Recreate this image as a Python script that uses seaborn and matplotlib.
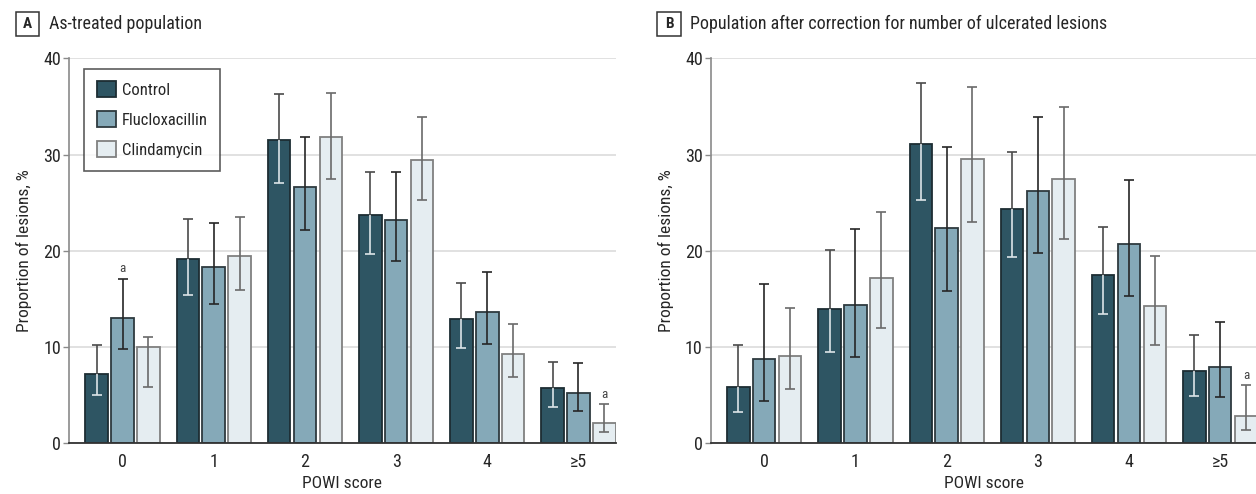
import matplotlib
matplotlib.use("Agg")
import matplotlib.pyplot as plt
from matplotlib import font_manager
from matplotlib.patches import Rectangle, Patch
import seaborn as sns
import pandas as pd
import numpy as np

# ---------------- data ----------------
scores = ["0", "1", "2", "3", "4", "\u22655"]
groups = ["Control", "Flucloxacillin", "Clindamycin"]

# Panel A: as-treated population
a_control = [7.2, 19.1, 31.5, 23.7, 12.9, 5.7]
a_control_lo = [5.0, 15.4, 27.0, 19.7, 9.9, 3.7]
a_control_hi = [10.2, 23.3, 36.3, 28.2, 16.6, 8.4]
a_fluclox = [13.0, 18.3, 26.6, 23.2, 13.6, 5.2]
a_fluclox_lo = [9.8, 14.4, 22.1, 18.9, 10.3, 3.3]
a_fluclox_hi = [17.1, 22.9, 31.8, 28.2, 17.8, 8.3]
a_clinda = [10.0, 19.4, 31.8, 29.4, 9.2, 2.1]
a_clinda_lo = [5.8, 15.9, 27.5, 25.3, 6.8, 1.1]
a_clinda_hi = [11.0, 23.5, 36.4, 33.9, 12.4, 4.0]
a_flags = {("Flucloxacillin", "0"), ("Clindamycin", "\u22655")}

# Panel B: after correction for number of ulcerated lesions
b_control = [5.8, 13.9, 31.1, 24.3, 17.5, 7.5]
b_control_lo = [3.2, 9.4, 25.3, 19.3, 13.4, 4.9]
b_control_hi = [10.2, 20.1, 37.4, 30.3, 22.5, 11.2]
b_fluclox = [8.7, 14.3, 22.4, 26.2, 20.7, 7.9]
b_fluclox_lo = [4.3, 8.9, 15.8, 19.8, 15.3, 4.8]
b_fluclox_hi = [16.5, 22.3, 30.8, 33.9, 27.4, 12.6]
b_clinda = [9.0, 17.2, 29.5, 27.5, 14.2, 2.8]
b_clinda_lo = [5.6, 12.0, 23.0, 21.2, 10.2, 1.3]
b_clinda_hi = [14.0, 24.0, 37.0, 34.9, 19.4, 6.0]
b_flags = {("Clindamycin", "\u22655")}

panel_a_title = "As-treated population"
panel_b_title = "Population after correction for number of ulcerated lesions"
y_label = "Proportion of lesions, %"
x_label = "POWI score"
y_ticks = [0, 10, 20, 30, 40]

# ---------------- style ----------------
face = {"Control": "#2e5563", "Flucloxacillin": "#85a9b8", "Clindamycin": "#e5edf1"}
edge = {"Control": "#1d2d33", "Flucloxacillin": "#2e3a3f", "Clindamycin": "#808080"}
err_out = {"Control": "#4a4a4a", "Flucloxacillin": "#262626", "Clindamycin": "#6a6a6a"}
err_in = {"Control": "#dde5e8", "Flucloxacillin": "#262626", "Clindamycin": "#6a6a6a"}

sns.set_theme(style="white")
avail = {f.name for f in font_manager.fontManager.ttflist}
fam = "DejaVu Sans"
for cand in ["Roboto Condensed", "Liberation Sans Narrow", "DejaVu Sans Condensed",
             "Open Sans Condensed", "Noto Sans Condensed", "Roboto", "Noto Sans"]:
    if cand in avail:
        fam = cand
        break
plt.rcParams["font.family"] = [fam, "DejaVu Sans"]
if fam == "DejaVu Sans":
    plt.rcParams["font.stretch"] = "condensed"
FS_TITLE = 13
FS_TICK = 13
FS_LAB = 12.5
FS_LEG = 12
TXT = "#262626"

W, H = 1256, 494
fig = plt.figure(figsize=(W / 100, H / 100), dpi=100)
ax_w = 546.7 / W
ax_h = 384.3 / H
ax_b = 1 - 442.8 / H
axA = fig.add_axes([69 / W, ax_b, ax_w, ax_h])
axB = fig.add_axes([710.7 / W, ax_b, ax_w, ax_h])


def make_df(c, f, k):
    rows = []
    for g, vals in zip(groups, [c, f, k]):
        for s, v in zip(scores, vals):
            rows.append({"score": s, "group": g, "value": v})
    return pd.DataFrame(rows)


def draw(ax, vals, los, his, flags, legend):
    df = make_df(*vals)
    sns.barplot(data=df, x="score", y="value", hue="group", order=scores,
                hue_order=groups, palette=face, errorbar=None, width=0.85,
                gap=0.13, linewidth=1.3, saturation=1, legend=False, ax=ax,
                zorder=2)
    for gi, (g, cont) in enumerate(zip(groups, ax.containers)):
        for si, p in enumerate(cont.patches):
            p.set_edgecolor(edge[g])
            p.set_linewidth(1.3)
            x = p.get_x() + p.get_width() / 2
            v = vals[gi][si]
            lo = los[gi][si]
            hi = his[gi][si]
            ax.vlines(x, lo, v, colors=err_in[g], lw=1.2, zorder=4)
            ax.plot([x], [lo], ls="none", marker="_", ms=6.5, mew=1.2,
                    color=err_in[g], zorder=4)
            ax.vlines(x, v, hi, colors=err_out[g], lw=1.2, zorder=5)
            ax.plot([x], [hi], ls="none", marker="_", ms=6.5, mew=1.2,
                    color=err_out[g], zorder=5)
            if (g, scores[si]) in flags:
                ax.annotate("a", (x, hi), xytext=(0, 2.5), textcoords="offset points",
                            ha="center", va="bottom", fontsize=9.5, color="#444444")
    ax.set_xlim(-0.587, 5.408)
    ax.set_ylim(0, 40)
    ax.set_yticks(y_ticks)
    ax.set_yticklabels([str(t) for t in y_ticks])
    ax.yaxis.grid(True, color="#dedede", lw=1.3, zorder=0)
    ax.xaxis.grid(False)
    ax.set_axisbelow(True)
    for s in ["top", "right"]:
        ax.spines[s].set_visible(False)
    ax.spines["left"].set_color("#8a8a8a")
    ax.spines["left"].set_linewidth(1.2)
    ax.spines["bottom"].set_color("#333333")
    ax.spines["bottom"].set_linewidth(1.3)
    ax.tick_params(axis="y", length=4.2, width=1, color="#8a8a8a", pad=1.5,
                   labelsize=FS_TICK, labelcolor=TXT, left=True)
    ax.tick_params(axis="x", length=0, pad=7, labelsize=FS_TICK, labelcolor=TXT)
    ax.set_xlabel(x_label, fontsize=FS_LAB, color=TXT)
    ax.set_ylabel(y_label, fontsize=FS_LAB, color=TXT)
    ax.xaxis.set_label_coords(0.5, -0.086)
    ax.yaxis.set_label_coords(-0.068, 0.5)
    if legend:
        handles = [Patch(facecolor=face[g], edgecolor=edge[g], linewidth=1.3) for g in groups]
        leg = ax.legend(handles, groups, loc="upper left", bbox_to_anchor=(0.028, 0.9727),
                        borderaxespad=0, frameon=True, fancybox=False, fontsize=FS_LEG,
                        handlelength=1.15, handleheight=1.1, handletextpad=0.35,
                        labelspacing=0.8, borderpad=0.75)
        leg.get_frame().set_edgecolor("#333333")
        leg.get_frame().set_linewidth(1.2)
        for t in leg.get_texts():
            t.set_color(TXT)


draw(axA, [a_control, a_fluclox, a_clinda], [a_control_lo, a_fluclox_lo, a_clinda_lo],
     [a_control_hi, a_fluclox_hi, a_clinda_hi], a_flags, True)
draw(axB, [b_control, b_fluclox, b_clinda], [b_control_lo, b_fluclox_lo, b_clinda_lo],
     [b_control_hi, b_fluclox_hi, b_clinda_hi], b_flags, False)


def panel_label(letter, box_x, text_x, title):
    fig.add_artist(Rectangle((box_x / W, 1 - 36 / H), 23.6 / W, 23.7 / H,
                             transform=fig.transFigure, fill=False,
                             edgecolor="#333333", lw=1.1))
    fig.text((box_x + 11.8) / W, 1 - 24.3 / H, letter, ha="center", va="center",
             fontsize=11, fontweight="bold", color=TXT)
    fig.text(text_x / W, 1 - 24.3 / H, title, ha="left", va="center",
             fontsize=FS_TITLE, color=TXT)


panel_label("A", 15.7, 49.3, panel_a_title)
panel_label("B", 657.3, 690, panel_b_title)

fig.savefig("out.png", dpi=100)
